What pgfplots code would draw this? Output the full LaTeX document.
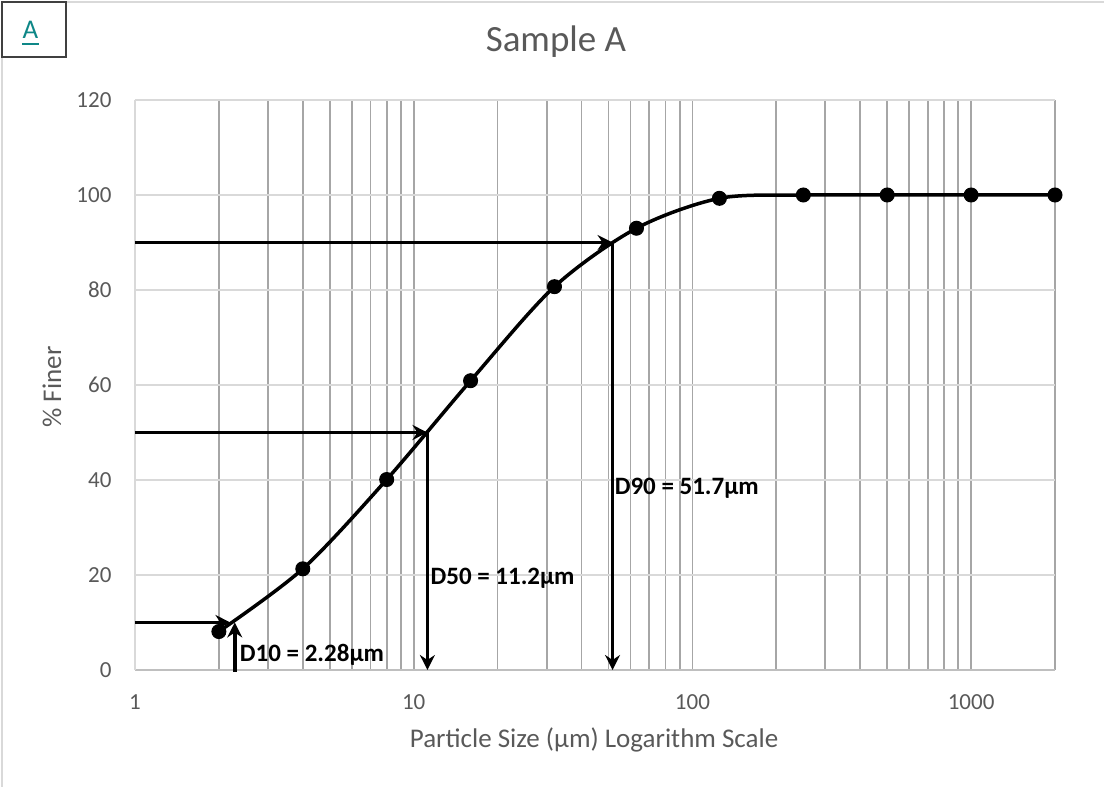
\documentclass[border=0pt]{standalone}
\usepackage{fontspec}
\setmainfont{Carlito}
\usepackage{pgfplots}
\pgfplotsset{compat=1.18}
\usetikzlibrary{arrows.meta}
\definecolor{txtgray}{HTML}{595959}
\definecolor{hgrid}{HTML}{D9D9D9}
\definecolor{vgrid}{HTML}{A6A6A6}
\definecolor{xaxisgray}{HTML}{BFBFBF}
\definecolor{teallink}{HTML}{0E8787}
\newcommand{\tlab}[1]{\hbox{\fontsize{23}{27}\selectfont\color{txtgray}#1}}
\begin{document}
\begin{tikzpicture}
\useasboundingbox (0pt,0pt) rectangle (1104pt,787pt);
% chart area frame (left and top edges visible)
\draw[hgrid, line width=2pt] (2pt,0pt) -- (2pt,730pt);
\draw[hgrid, line width=2pt] (66pt,785pt) -- (1104pt,785pt);
% panel label
\draw[black!75, line width=1.5pt] (2pt,785pt) rectangle (66pt,730pt);
\node[text=teallink, font=\fontsize{27}{32}\selectfont, inner sep=0pt, anchor=base] at (30.5pt,748pt) {A};
\draw[teallink, line width=1.6pt] (22pt,743pt) -- (39pt,743pt);

\begin{axis}[
  at={(135pt,117pt)}, anchor=south west,
  scale only axis, width=920pt, height=570pt,
  xmode=log, log basis x=10,
  xmin=1, xmax=2000, ymin=0, ymax=120,
  xtick={1,10,100,1000},
  xticklabels={\tlab{1},\tlab{10},\tlab{100},\tlab{1000}},
  minor xtick={2,3,4,5,6,7,8,9,20,30,40,50,60,70,80,90,200,300,400,500,600,700,800,900,2000},
  ytick={0,20,40,60,80,100,120},
  yticklabels={\tlab{0},\tlab{20},\tlab{40},\tlab{60},\tlab{80},\tlab{100},\tlab{120}},
  xmajorgrids, xminorgrids, ymajorgrids,
  x grid style={vgrid, line width=1.8pt},
  y grid style={hgrid, line width=2pt},
  major tick length=0pt, minor tick length=0pt,
  axis x line*=bottom, axis y line*=left,
  x axis line style={xaxisgray, line width=2pt},
  y axis line style={hgrid, line width=2pt},
  xticklabel style={yshift=-21pt},
  yticklabel style={xshift=-20pt},
  title={Sample A},
  title style={font=\fontsize{37}{44}\selectfont, text=txtgray, at={(axis description cs:0.4576,1.091)}, anchor=center},
  xlabel={Particle Size (µm) Logarithm Scale},
  ylabel={\% Finer},
  label style={font=\fontsize{27}{32}\selectfont, text=txtgray},
  xlabel style={at={(axis description cs:0.499,-0.1228)}, anchor=center},
  ylabel style={at={(axis description cs:-0.0902,0.4965)}, anchor=center},
  clip=false,
]
% D90
\addplot[forget plot, black, line width=3.5pt, -{Stealth[length=15pt,width=15pt,inset=5pt]}] coordinates {(1,90) (51.7,90)};
\addplot[forget plot, black, line width=3.5pt, -{Stealth[length=15pt,width=15pt,inset=5pt]}] coordinates {(51.7,90) (51.7,0)};
% D50
\addplot[forget plot, black, line width=3.5pt, -{Stealth[length=15pt,width=15pt,inset=5pt]}] coordinates {(1,50) (11.2,50)};
\addplot[forget plot, black, line width=3.5pt, -{Stealth[length=15pt,width=15pt,inset=5pt]}] coordinates {(11.2,50) (11.2,0)};
% D10
\addplot[forget plot, black, line width=3.5pt, -{Stealth[length=15pt,width=15pt,inset=5pt]}] coordinates {(1,10) (2.2,10)};
\addplot[forget plot, black, line width=3.5pt, -{Stealth[length=15pt,width=15pt,inset=5pt]}] coordinates {(2.28,-0.4) (2.28,10)};
% data
\addplot[black, line width=3.5pt, smooth, tension=0.5, mark=*, mark size=7pt,
  mark options={line width=1pt, fill=black}]
  coordinates {(2,8.1) (4,21.3) (8,40.1) (16,60.9) (32,80.7) (63,93.0) (125,99.3) (250,100) (500,100) (1000,100) (2000,100)};
\node[font=\bfseries\fontsize{25}{30}\selectfont, anchor=west, inner sep=0pt, xshift=5pt] at (axis cs:2.28,3.2) {D10 = 2.28µm};
\node[font=\bfseries\fontsize{25}{30}\selectfont, anchor=west, inner sep=0pt, xshift=3pt] at (axis cs:11.2,19.4) {D50 = 11.2µm};
\node[font=\bfseries\fontsize{25}{30}\selectfont, anchor=west, inner sep=0pt, xshift=2pt] at (axis cs:51.7,38.3) {D90 = 51.7µm};
\end{axis}
\end{tikzpicture}
\end{document}
